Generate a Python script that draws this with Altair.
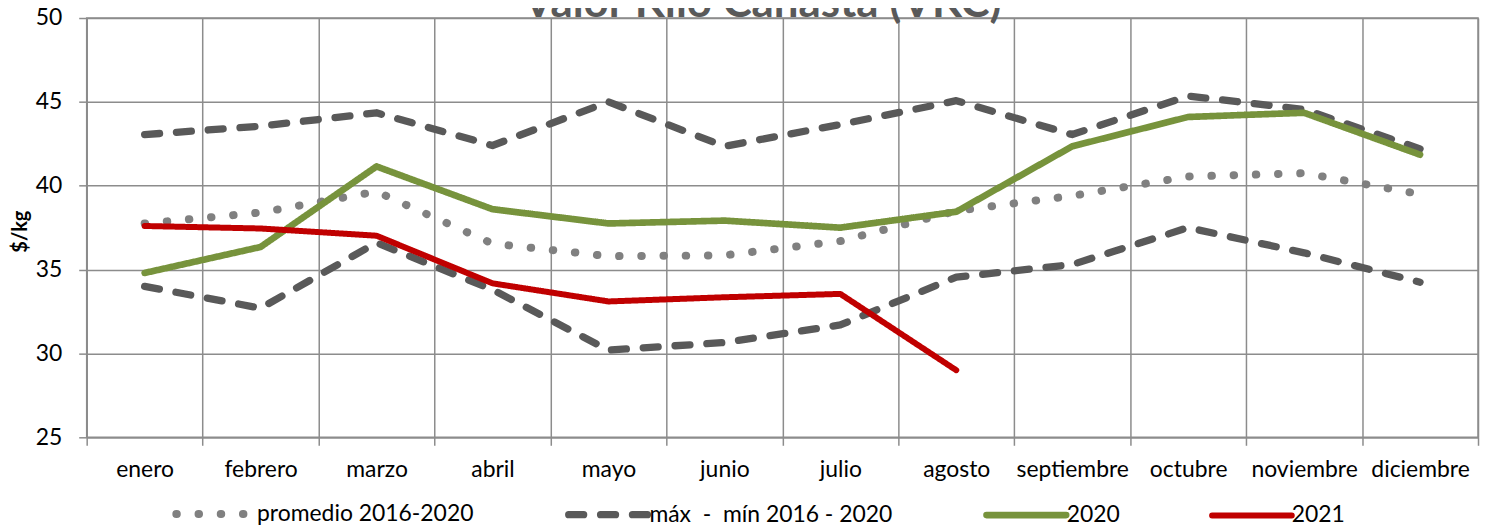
import altair as alt
import pandas as pd

meses = ["enero", "febrero", "marzo", "abril", "mayo", "junio", "julio",
         "agosto", "septiembre", "octubre", "noviembre", "diciembre"]
promedio = [37.75, 38.4, 39.65, 36.55, 35.8, 35.85, 36.7, 38.5, 39.4, 40.55, 40.75, 39.5]
maximo = [43.05, 43.55, 44.35, 42.4, 45.0, 42.35, 43.65, 45.07, 43.05, 45.35, 44.55, 42.2]
minimo = [34.0, 32.7, 36.6, 33.8, 30.2, 30.65, 31.7, 34.55, 35.3, 37.5, 36.0, 34.25]
v2020 = [34.8, 36.35, 41.15, 38.6, 37.75, 37.92, 37.5, 38.45, 42.35, 44.1, 44.35, 41.85]
v2021 = [37.6, 37.45, 37.02, 34.18, 33.1, 33.35, 33.55, 29.0]

S_PROM = "promedio 2016-2020"
S_MM = "máx\u00a0\u00a0-\u00a0\u00a0mín 2016 - 2020"
S_20 = "2020"
S_21 = "2021"
series_order = [S_PROM, S_MM, S_20, S_21]

rows = []
for serie, linea, vals in [(S_PROM, "prom", promedio), (S_MM, "max", maximo),
                           (S_MM, "min", minimo), (S_20, "2020", v2020),
                           (S_21, "2021", v2021)]:
    for m, v in zip(meses, vals):
        rows.append({"mes": m, "valor": v, "serie": serie, "linea": linea})
df = pd.DataFrame(rows)

FONT = "Lato"
GRID = "#8c8c8c"
COLORS = ["#808080", "#595959", "#77933C", "#C00000"]

legend_kwargs = dict(
    orient="none", legendX=86, legendY=454, direction="horizontal",
    title=None, symbolType="stroke", symbolSize=6400, symbolStrokeWidth=8,
    labelFont=FONT, labelFontSize=23, labelColor="#000000", labelLimit=500,
    columnPadding=80, labelOffset=0, padding=0,
)

base = alt.Chart(df).mark_line(strokeCap="round", strokeJoin="round").encode(
    x=alt.X("mes:N", sort=meses,
            scale=alt.Scale(type="band", paddingInner=0, paddingOuter=0),
            axis=alt.Axis(title=None, tickBand="extent", labelAngle=0, grid=True,
                          gridColor=GRID, gridWidth=1.5, gridOpacity=1,
                          labelFont=FONT, labelFontSize=23, labelColor="#000000",
                          labelPadding=13, tickSize=8)),
    y=alt.Y("valor:Q", scale=alt.Scale(domain=[25, 50], nice=False, zero=False),
            axis=alt.Axis(title="$/kg", values=[25, 30, 35, 40, 45, 50], grid=True,
                          gridColor=GRID, gridWidth=1.5, gridOpacity=1,
                          labelFont=FONT, labelFontSize=23, labelColor="#000000",
                          labelPadding=17, tickSize=8,
                          titleFont=FONT, titleFontSize=20, titleFontWeight="bold",
                          titleColor="#000000", titleX=-66, titleY=214,
                          titleAngle=270, titleAlign="center",
                          titleBaseline="middle")),
    color=alt.Color("serie:N",
                    scale=alt.Scale(domain=series_order, range=COLORS),
                    legend=alt.Legend(**legend_kwargs)),
    strokeDash=alt.StrokeDash("serie:N",
                              scale=alt.Scale(domain=series_order,
                                              range=[[0.5, 21.8], [15, 17], [1, 0], [1, 0]]),
                              legend=alt.Legend(**legend_kwargs)),
    strokeWidth=alt.StrokeWidth("serie:N",
                                scale=alt.Scale(domain=series_order, range=[8, 6, 7, 7]),
                                legend=None),
    detail="linea:N",
)

chart = base.properties(
    width=1397, height=421,
    background="white",
    padding={"left": 79, "top": 9, "right": 4, "bottom": 89},
    autosize=alt.AutoSizeParams(type="none"),
    title=alt.TitleParams(text="Valor Kilo Canasta (VKC)", font=FONT, fontSize=44,
                          fontWeight="bold", color="#595959", anchor="middle",
                          frame="group", dx=-20, offset=-19),
).configure_view(stroke=GRID, strokeWidth=1.5).configure_axis(
    gridColor=GRID, gridWidth=1.5, gridOpacity=1, domainColor=GRID, domainWidth=1.5,
    tickColor=GRID, tickWidth=1.5,
)

# Vega-Lite supports legend "encode" but the schema does not list it:
# add round caps to the legend symbols after validation.
_orig_to_dict = chart.to_dict


def _patched_to_dict(*args, **kwargs):
    d = _orig_to_dict(*args, **kwargs)
    try:
        for ch in ("color", "strokeDash"):
            leg = d["encoding"][ch].get("legend")
            if isinstance(leg, dict):
                leg["encode"] = {"symbols": {"update": {
                    "strokeCap": {"value": "round"},
                    "fill": {"value": "transparent"},
                }}}
                leg["labelOffset"] = -3
    except Exception:
        pass
    return d


object.__setattr__(chart, "to_dict", _patched_to_dict)

chart.save("out.html", embed_options={"renderer": "svg", "actions": False})
